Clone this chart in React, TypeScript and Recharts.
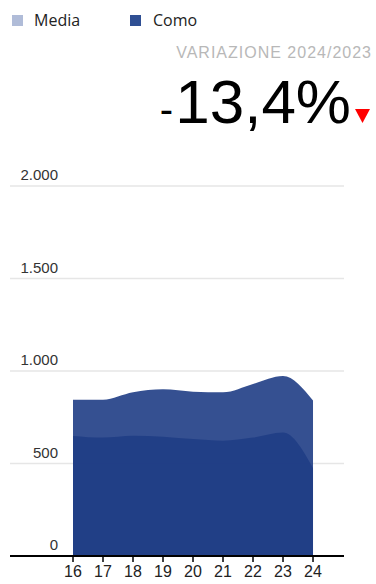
import { Area, AreaChart, CartesianGrid, XAxis, YAxis } from 'recharts'

const years = [16, 17, 18, 19, 20, 21, 22, 23, 24]
const como = [845, 845, 885, 901, 888, 885, 930, 973, 840]
const media = [649, 640, 650, 645, 632, 623, 640, 667, 474]
const yTicks = [0, 500, 1000, 1500, 2000]

const data = years.map((y, i) => ({ year: y, como: como[i], media: media[i] }))

const fmt = (v: number) => v.toLocaleString('it-IT')
const arial = '"Liberation Sans", Arial, sans-serif'

function YTick({ y, payload }: any) {
  return (
    <text x={58} y={y - 6} textAnchor="end" fontSize={15} fill="#333" fontFamily={arial}>
      {fmt(payload.value)}
    </text>
  )
}

export default function App() {
  return (
    <div style={{ position: 'absolute', left: 0, top: 0, width: 376, height: 584, background: '#fff', fontFamily: '"Open Sans", sans-serif' }}>
      <div style={{ position: 'absolute', left: 12, top: 9, display: 'flex', alignItems: 'center', fontSize: 16, color: '#222', lineHeight: '22px' }}>
        <span style={{ width: 11, height: 11, background: '#b0bcd8', display: 'inline-block', marginRight: 11 }} />
        <span style={{ width: 96 }}>Media</span>
        <span style={{ width: 11, height: 11, background: '#2f4f93', display: 'inline-block', marginRight: 12 }} />
        <span>Como</span>
      </div>
      <div style={{ position: 'absolute', right: 4, top: 44, fontFamily: arial, fontSize: 16, lineHeight: '18px', color: '#b8b8b8', letterSpacing: 1 }}>VARIAZIONE 2024/2023</div>
      <div style={{ position: 'absolute', right: 6, top: 74, display: 'flex', alignItems: 'baseline', color: '#000', fontFamily: arial, lineHeight: '56px' }}>
        <span style={{ display: 'inline-block', fontSize: 40, marginRight: 2, lineHeight: '40px' }}>-</span>
        <span style={{ display: 'inline-block', fontSize: 62, lineHeight: '56px' }}>13,4%</span>
        <svg width={15} height={14} style={{ marginLeft: 4 }}>
          <polygon points="0,0 15,0 7.5,14" fill="#f00" />
        </svg>
      </div>
      <div style={{ position: 'absolute', left: 0, top: 0 }}>
        <AreaChart width={376} height={584} data={data} margin={{ top: 186, right: 32, bottom: 0, left: 9 }}>
          <CartesianGrid vertical={false} stroke="#e6e6e6" strokeWidth={1.5} />
          <YAxis domain={[0, 2000]} ticks={yTicks} width={1} axisLine={false} tickLine={false} tick={<YTick />} />
          <XAxis
            dataKey="year"
            type="number"
            domain={[13.9, 25.033]}
            ticks={years}
            height={28}
            axisLine={{ stroke: '#000', strokeWidth: 2 }}
            tickLine={{ stroke: '#000', strokeWidth: 1.5 }}
            tickSize={6}
            tickMargin={4}
            tick={{ fontSize: 16, fill: '#222', fontFamily: arial }}
          />
          <Area type="monotone" dataKey="como" stroke="none" fill="#1f3d85" fillOpacity={0.9} isAnimationActive={false} />
          <Area type="monotone" dataKey="media" stroke="none" fill="#1f3d85" fillOpacity={0.9} isAnimationActive={false} />
        </AreaChart>
      </div>
    </div>
  )
}
